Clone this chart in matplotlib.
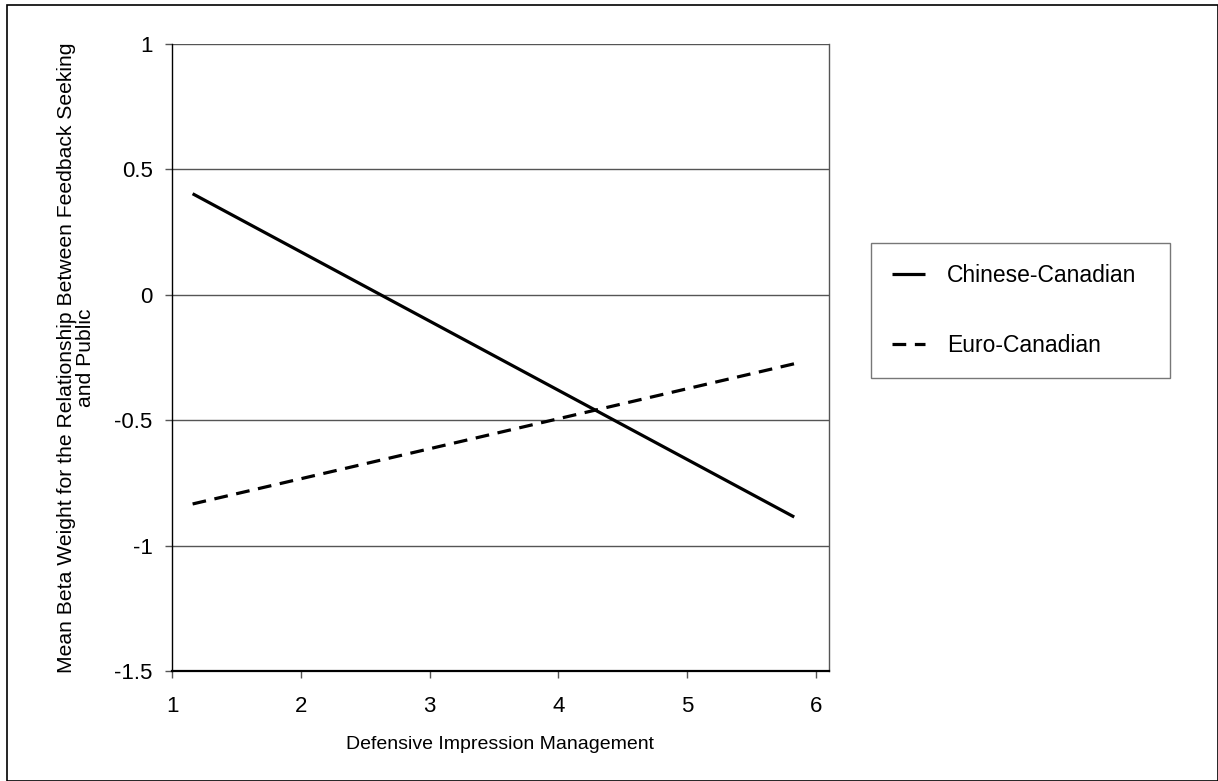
import matplotlib
matplotlib.use("Agg")
import matplotlib.pyplot as plt
from matplotlib.patches import Rectangle

plt.rcParams['font.family'] = ['Liberation Sans', 'DejaVu Sans']

# Data
x_vals = [1.16, 5.83]
chinese_canadian = [0.403, -0.886]
euro_canadian = [-0.834, -0.275]

x_ticks = [1, 2, 3, 4, 5, 6]
y_ticks = [-1.5, -1, -0.5, 0, 0.5, 1]
y_tick_labels = ['-1.5', '-1', '-0.5', '0', '0.5', '1']

W, H = 1218, 781
fig = plt.figure(figsize=(W / 100, H / 100), dpi=100)

# outer chart frame
fig.patches.append(Rectangle((7 / W, 0.5 / H), (W - 7.5) / W, (H - 5.5) / H,
                             transform=fig.transFigure, fill=False,
                             edgecolor='black', linewidth=1.2))

ax = fig.add_axes([172 / W, 1 - 671 / H, (829 - 172) / W, (671 - 44) / H])

for yv in y_ticks[1:]:
    ax.axhline(yv, color='#555555', linewidth=1.0, zorder=1)

ax.plot(x_vals, chinese_canadian, color='black', linewidth=2.3,
        solid_capstyle='butt', label='Chinese-Canadian', zorder=3)
ax.plot(x_vals, euro_canadian, color='black', linewidth=2.3,
        dashes=(4.3, 2.7), dash_capstyle='butt', label='Euro-Canadian', zorder=3)

ax.set_xlim(1, 6.1)
ax.set_ylim(-1.5, 1)
ax.set_xticks(x_ticks)
ax.set_yticks(y_ticks)
ax.set_yticklabels(y_tick_labels)

ax.spines['top'].set_visible(False)
ax.spines['right'].set_color('#555555')
ax.spines['right'].set_linewidth(1.0)
ax.spines['left'].set_color('black')
ax.spines['left'].set_linewidth(1.0)
ax.spines['bottom'].set_color('black')
ax.spines['bottom'].set_linewidth(1.6)

ax.tick_params(axis='both', direction='out', length=5, width=1,
               color='#555555', labelsize=16)
ax.tick_params(axis='x', pad=13)
ax.tick_params(axis='y', pad=9)

ax.set_xlabel('Defensive Impression Management', fontsize=14, labelpad=14)
ax.set_ylabel('Mean Beta Weight for the Relationship Between Feedback Seeking\nand Public',
              fontsize=15.2, labelpad=14, linespacing=0.95)

leg = fig.legend(loc='upper left',
                 bbox_to_anchor=(871 / W, 1 - 243 / H, (1170 - 871) / W, 0),
                 mode='expand', fontsize=16.5, frameon=True, fancybox=False,
                 edgecolor='#555555', handlelength=1.45, handletextpad=0.95,
                 labelspacing=2.05, borderpad=0.92, borderaxespad=0)
leg.get_frame().set_linewidth(1.0)

fig.savefig('out.png', dpi=100)
